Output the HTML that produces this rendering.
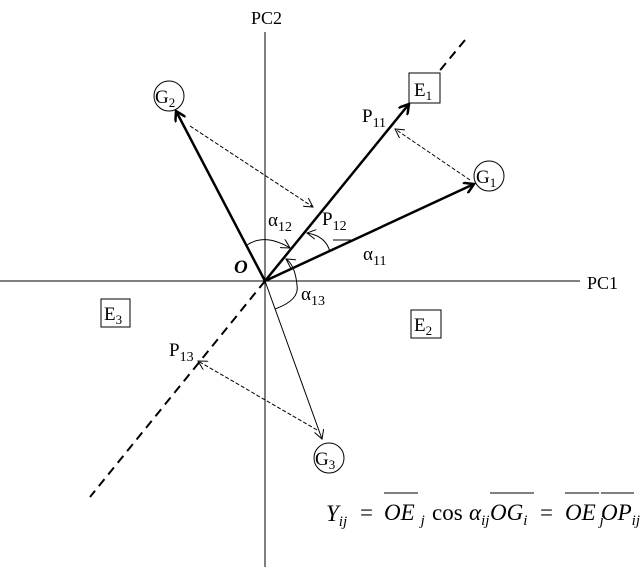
<!DOCTYPE html>
<html><head><style>
body{margin:0;background:#fff}
svg{display:block}
text{font-family:"Liberation Serif",serif;fill:#000}
</style></head><body>
<svg width="640" height="570" viewBox="0 0 640 570" xmlns="http://www.w3.org/2000/svg">
<defs>
<marker id="ah" markerWidth="12" markerHeight="12" refX="10" refY="6" orient="auto" markerUnits="userSpaceOnUse"><path d="M0,0 L10,6 L0,12" fill="none" stroke="#000" stroke-width="2.5"/></marker>
<marker id="as" markerWidth="10" markerHeight="10" refX="9" refY="5" orient="auto" markerUnits="userSpaceOnUse"><path d="M0,0 L9,5 L0,10" fill="none" stroke="#000" stroke-width="1"/></marker>
</defs>
<!-- axes -->
<line x1="0" y1="281" x2="580" y2="281" stroke="#000" stroke-width="1"/>
<line x1="265" y1="32" x2="265" y2="567" stroke="#000" stroke-width="1"/>
<text x="587" y="289" font-size="18">PC1</text>
<text x="251" y="24" font-size="18">PC2</text>
<!-- dashed E axis -->
<line x1="465" y1="40" x2="432" y2="80" stroke="#000" stroke-width="2" stroke-dasharray="9,6"/>
<line x1="265" y1="281" x2="90" y2="497" stroke="#000" stroke-width="2" stroke-dasharray="9,6"/>
<!-- vectors -->
<line x1="265" y1="281" x2="409" y2="104" stroke="#000" stroke-width="2.5" marker-end="url(#ah)"/>
<line x1="265" y1="281" x2="474" y2="184" stroke="#000" stroke-width="2.5" marker-end="url(#ah)"/>
<line x1="265" y1="281" x2="176" y2="111" stroke="#000" stroke-width="2.5" marker-end="url(#ah)"/>
<line x1="265" y1="281" x2="322" y2="439" stroke="#000" stroke-width="1" marker-end="url(#as)"/>
<!-- projections -->
<line x1="190" y1="126" x2="313" y2="207" stroke="#000" stroke-width="1" stroke-dasharray="4,2" marker-end="url(#as)"/>
<line x1="470" y1="180" x2="395" y2="129" stroke="#000" stroke-width="1" stroke-dasharray="4,2" marker-end="url(#as)"/>
<line x1="317" y1="430" x2="198" y2="361" stroke="#000" stroke-width="1" stroke-dasharray="4,2" marker-end="url(#as)"/>
<!-- angle arcs -->
<path d="M247,245 Q265,233 290,248" fill="none" stroke="#000" stroke-width="1" marker-end="url(#as)"/>
<path d="M330,252 Q326,236 307,233" fill="none" stroke="#000" stroke-width="1" marker-end="url(#as)"/>
<path d="M355,240 L333,240" fill="none" stroke="#000" stroke-width="1"/>
<path d="M275,309 Q300,300 297,285 Q295,265 286,259" fill="none" stroke="#000" stroke-width="1" marker-end="url(#as)"/>
<!-- nodes -->
<rect x="409" y="73" width="31" height="30" fill="#fff" stroke="#000"/>
<text x="414" y="96" font-size="19">E<tspan font-size="13" dy="4">1</tspan></text>
<rect x="101" y="299" width="29" height="28" fill="#fff" stroke="#000"/>
<text x="104" y="320" font-size="19">E<tspan font-size="13" dy="4">3</tspan></text>
<rect x="411" y="310" width="30" height="28" fill="#fff" stroke="#000"/>
<text x="414" y="331" font-size="19">E<tspan font-size="13" dy="4">2</tspan></text>
<circle cx="489" cy="176" r="15" fill="#fff" stroke="#000"/>
<text x="476" y="183" font-size="19">G<tspan font-size="13" dy="4">1</tspan></text>
<circle cx="169" cy="96" r="15" fill="#fff" stroke="#000"/>
<text x="155" y="103" font-size="19">G<tspan font-size="13" dy="4">2</tspan></text>
<circle cx="329" cy="458" r="15" fill="#fff" stroke="#000"/>
<text x="315" y="465" font-size="19">G<tspan font-size="13" dy="4">3</tspan></text>
<!-- labels -->
<text x="362" y="122" font-size="19">P<tspan font-size="14" dy="5">11</tspan></text>
<text x="322" y="225" font-size="19">P<tspan font-size="14" dy="5">12</tspan></text>
<text x="169" y="356" font-size="19">P<tspan font-size="14" dy="5">13</tspan></text>
<text x="268" y="226" font-size="19">α<tspan font-size="14" dy="5">12</tspan></text>
<text x="363" y="260" font-size="19">α<tspan font-size="14" dy="5">11</tspan></text>
<text x="301" y="300" font-size="19">α<tspan font-size="14" dy="5">13</tspan></text>
<text x="234" y="273" font-size="19" font-weight="bold" font-style="italic">O</text>
<!-- formula -->
<g font-size="23">
<text x="326" y="521" font-style="italic">Y<tspan font-size="15" dy="5">ij</tspan></text>
<text x="360" y="520">=</text>
<line x1="384" y1="493" x2="418" y2="493" stroke="#000"/>
<text x="384" y="520" font-style="italic">OE<tspan font-size="15" dy="5" dx="6">j</tspan></text>
<text x="432" y="520">cos</text>
<text x="469" y="520" font-style="italic">α<tspan font-size="15" dy="5">ij</tspan></text>
<line x1="490" y1="493" x2="534" y2="493" stroke="#000"/>
<text x="490" y="520" font-style="italic">OG<tspan font-size="15" dy="5">i</tspan></text>
<text x="540" y="520">=</text>
<line x1="565" y1="493" x2="599" y2="493" stroke="#000"/>
<text x="565" y="520" font-style="italic">OE<tspan font-size="15" dy="5" dx="4">j</tspan></text>
<line x1="601" y1="493" x2="634" y2="493" stroke="#000"/>
<text x="601" y="520" font-style="italic">OP<tspan font-size="15" dy="5">ij</tspan></text>
</g>
</svg>
</body></html>
